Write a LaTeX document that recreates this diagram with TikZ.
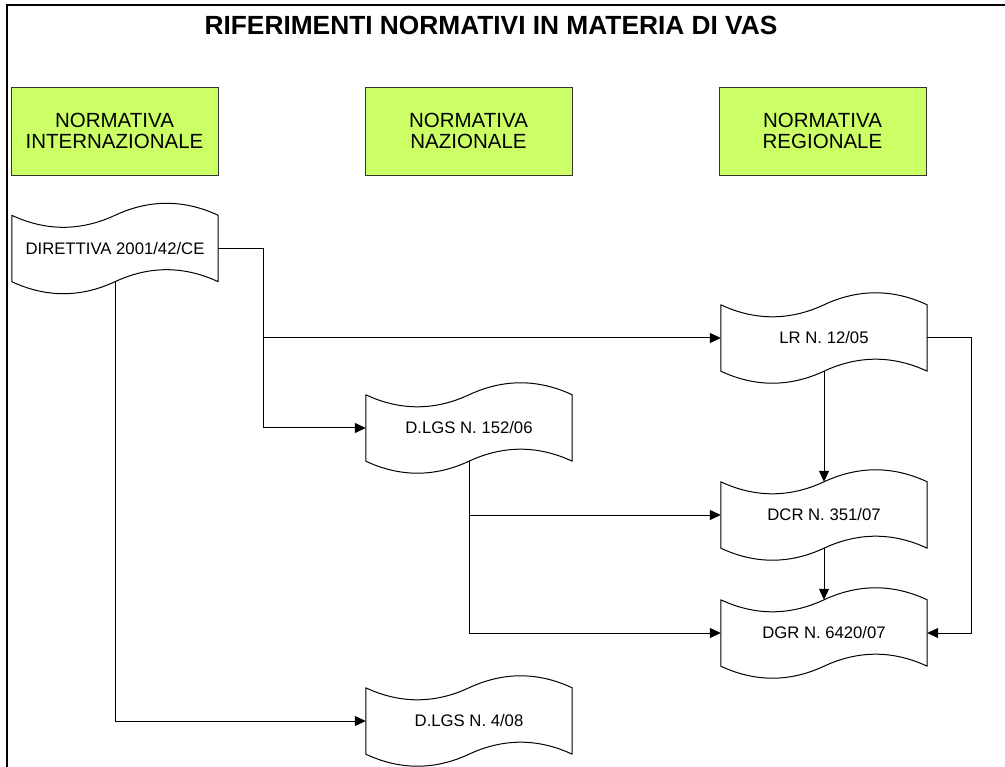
\documentclass[tikz,border=0pt]{standalone}
\usepackage{fontspec}
\setmainfont{Liberation Sans}
\usetikzlibrary{arrows.meta}
\definecolor{hdrgreen}{HTML}{CCFF66}
\begin{document}
\begin{tikzpicture}[x=1pt,y=-1pt,
  hdr/.style={draw=black!80, line width=0.8pt, fill=hdrgreen, minimum width=207pt, minimum height=88pt, inner sep=0pt, align=center, font=\fontsize{20.5}{21}\selectfont},
  tapebox/.style={minimum width=206pt, minimum height=66pt, inner sep=0pt, font=\fontsize{16.7}{18}\selectfont},
  conn/.style={line width=1pt, -{Triangle[length=11pt,width=10pt]}},
  tapeline/.style={line width=1pt, line join=round},
  ]
\useasboundingbox (0,0) rectangle (1005,767);
% frame
\draw[line width=2pt] (7,767) -- (7,5) -- (1005,5);
% title
\node[font=\fontsize{26.3}{28}\selectfont\bfseries, anchor=base, inner sep=0pt] (title) at (491,35) {RIFERIMENTI NORMATIVI IN MATERIA DI VAS};
% headers
\node[hdr] (h1) at (114.5,131) {NORMATIVA\\INTERNAZIONALE};
\node[hdr] (h2) at (468.5,131) {NORMATIVA\\NAZIONALE};
\node[hdr] (h3) at (822.5,131) {NORMATIVA\\REGIONALE};
% documents
\node[tapebox] (dir)  at (115,248.5) {DIRETTIVA 2001/42/CE};
\node[tapebox] (lr)   at (824,338) {LR N. 12/05};
\node[tapebox] (d152) at (469,428) {D.LGS N. 152/06};
\node[tapebox] (dcr)  at (824,515) {DCR N. 351/07};
\node[tapebox] (dgr)  at (824,633) {DGR N. 6420/07};
\node[tapebox] (d4)   at (469,721) {D.LGS N. 4/08};
\foreach \n in {dir,lr,d152,dcr,dgr,d4}{
  \draw[tapeline] (\n.north west) .. controls +(34.33,16) and +(-34.33,16) .. (\n.north)
    .. controls +(34.33,-16) and +(-34.33,-16) .. (\n.north east) -- (\n.south east)
    .. controls +(-34.33,-16) and +(34.33,-16) .. (\n.south)
    .. controls +(-34.33,16) and +(34.33,16) .. (\n.south west) -- cycle;
}
% connectors
\draw[conn] (dir.east) -- ++(45,0) |- (lr.west);
\draw[conn] (dir.east) -- ++(45,0) |- (d152.west);
\draw[conn] (dir.south) |- (d4.west);
\draw[conn] (d152.south) |- (dcr.west);
\draw[conn] (d152.south) |- (dgr.west);
\draw[conn] (lr.south) -- (dcr.north);
\draw[conn] (dcr.south) -- (dgr.north);
\draw[conn] (lr.east) -- ++(44,0) |- (dgr.east);
\end{tikzpicture}
\end{document}
